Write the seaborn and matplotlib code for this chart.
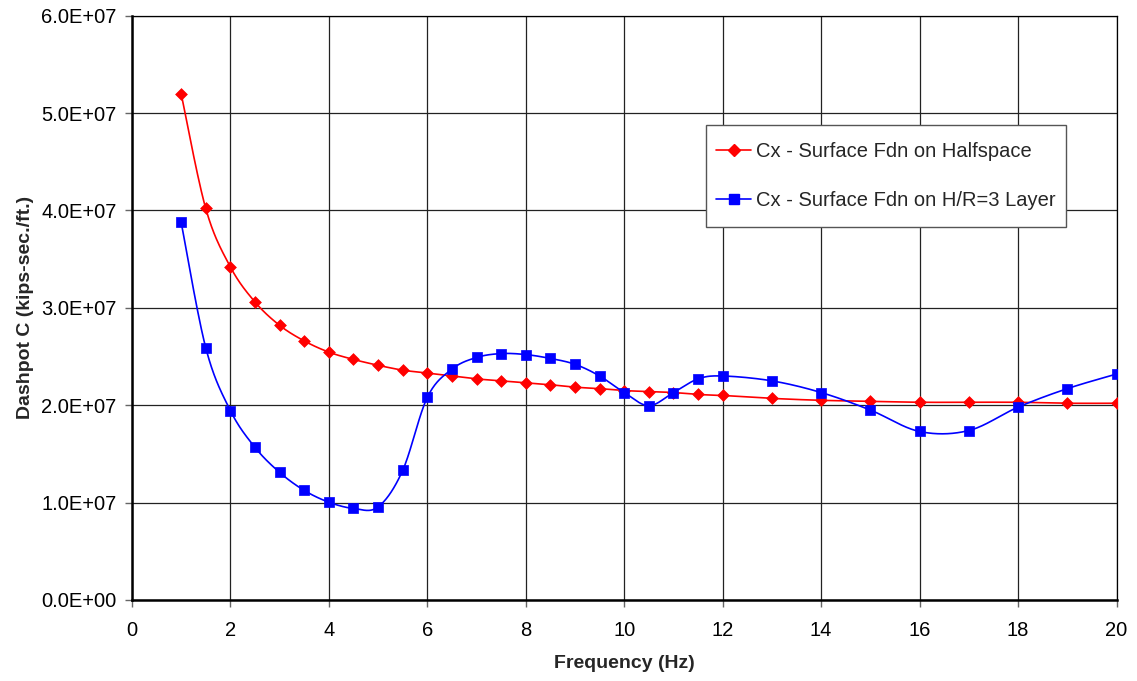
import numpy as np
import pandas as pd
import matplotlib
matplotlib.use("Agg")
import matplotlib.pyplot as plt
from matplotlib.ticker import FuncFormatter, MultipleLocator
from matplotlib.lines import Line2D
from matplotlib.path import Path
import seaborn as sns

# ---- data ----
freq = [1, 1.5, 2, 2.5, 3, 3.5, 4, 4.5, 5, 5.5, 6, 6.5, 7, 7.5, 8, 8.5, 9, 9.5,
        10, 10.5, 11, 11.5, 12, 13, 14, 15, 16, 17, 18, 19, 20]
halfspace = [5.20e7, 4.02e7, 3.42e7, 3.06e7, 2.82e7, 2.66e7, 2.545e7, 2.47e7, 2.41e7,
             2.36e7, 2.33e7, 2.30e7, 2.27e7, 2.25e7, 2.23e7, 2.21e7, 2.185e7, 2.17e7,
             2.15e7, 2.14e7, 2.13e7, 2.11e7, 2.10e7, 2.07e7, 2.05e7, 2.04e7, 2.03e7,
             2.03e7, 2.03e7, 2.02e7, 2.02e7]
layer = [3.88e7, 2.59e7, 1.945e7, 1.567e7, 1.31e7, 1.125e7, 1.004e7, 0.94e7, 0.955e7,
         1.33e7, 2.08e7, 2.37e7, 2.49e7, 2.53e7, 2.52e7, 2.48e7, 2.42e7, 2.30e7,
         2.13e7, 1.995e7, 2.13e7, 2.27e7, 2.30e7, 2.25e7, 2.13e7, 1.95e7, 1.73e7,
         1.74e7, 1.98e7, 2.17e7, 2.32e7]
label_half = "Cx - Surface Fdn on Halfspace"
label_layer = "Cx - Surface Fdn on H/R=3 Layer"
x_label = "Frequency (Hz)"
y_label = "Dashpot C (kips-sec./ft.)"


def smooth_curve(xs, ys, n=30):
    """Excel-style smoothed line (Bezier through points, tension 1/6)."""
    P = np.column_stack([xs, ys]).astype(float)
    out = []
    for i in range(len(P) - 1):
        p0 = P[i - 1] if i > 0 else P[i]
        p1, p2 = P[i], P[i + 1]
        p3 = P[i + 2] if i + 2 < len(P) else P[i + 1]
        b1 = p1 + (p2 - p0) / 6.0
        b2 = p2 - (p3 - p1) / 6.0
        t = np.linspace(0, 1, n, endpoint=(i == len(P) - 2))[:, None]
        seg = ((1 - t) ** 3) * p1 + 3 * ((1 - t) ** 2) * t * b1 + 3 * (1 - t) * t ** 2 * b2 + t ** 3 * p2
        out.append(seg)
    out = np.vstack(out)
    return out[:, 0], out[:, 1]


sns.set_theme(style="white")
plt.rcParams["font.family"] = ["Liberation Sans", "DejaVu Sans"]

fig = plt.figure(figsize=(11.37, 6.81), dpi=100)
ax = fig.add_axes([0.116, 0.119, 0.866, 0.858])

red = "#FF0000"
blue = "#0000FF"

for ys, col, mk, ms in [(halfspace, red, "D", 6), (layer, blue, "s", 7.5)]:
    sx, sy = smooth_curve(freq, ys)
    curve = pd.DataFrame({"x": sx, "y": sy})
    sns.lineplot(data=curve, x="x", y="y", ax=ax, color=col, linewidth=1.2,
                 sort=False, estimator=None)
    pts = pd.DataFrame({"x": freq, "y": ys})
    sns.scatterplot(data=pts, x="x", y="y", ax=ax, color=col, marker=mk,
                    s=ms ** 2, edgecolor=col, linewidth=0.5, zorder=5)

ax.set_xlim(0, 20)
ax.set_ylim(0, 6e7)
ax.xaxis.set_major_locator(MultipleLocator(2))
ax.yaxis.set_major_locator(MultipleLocator(1e7))
ax.yaxis.set_major_formatter(FuncFormatter(lambda v, p: f"{v:.1E}"))
ax.grid(True, color="#222222", linewidth=0.9)
ax.set_axisbelow(True)
for s in ax.spines.values():
    s.set_color("black")
    s.set_linewidth(0.9)
ax.spines["left"].set_linewidth(1.8)
ax.spines["bottom"].set_linewidth(1.8)
ax.tick_params(axis="both", which="major", direction="out", length=5, width=1,
               color="#666666", labelsize=14.5, labelcolor="black",
               bottom=True, left=True)
ax.tick_params(axis="y", pad=6)
ax.tick_params(axis="x", pad=10)

ax.set_xlabel(x_label, fontsize=14, fontweight="bold", labelpad=11)
ax.set_ylabel(y_label, fontsize=14, fontweight="bold", labelpad=5)

handles = [
    Line2D([0], [0], color=red, marker="D", markersize=6, linewidth=1.2, label=label_half),
    Line2D([0], [0], color=blue, marker="s", markersize=7.5, linewidth=1.2, label=label_layer),
]
leg = ax.legend(handles=handles, loc="upper right", bbox_to_anchor=(0.956, 0.813),
                frameon=True, fancybox=False, fontsize=14.5, labelspacing=1.5,
                handlelength=1.75, handletextpad=0.25, borderpad=0.85, borderaxespad=0)


def inset_box(x0, y0, width, height, mutation_size):
    dx = 0.35 * mutation_size
    x0 = x0 + dx
    width = width - 2 * dx
    return Path([(x0, y0), (x0 + width, y0), (x0 + width, y0 + height),
                 (x0, y0 + height), (x0, y0)], closed=True)


frame = leg.get_frame()
frame.set_boxstyle(inset_box)
frame.set_edgecolor("#555555")
frame.set_linewidth(1.0)
frame.set_facecolor("white")
frame.set_alpha(1)

fig.savefig("out.png", dpi=100, facecolor="white")
